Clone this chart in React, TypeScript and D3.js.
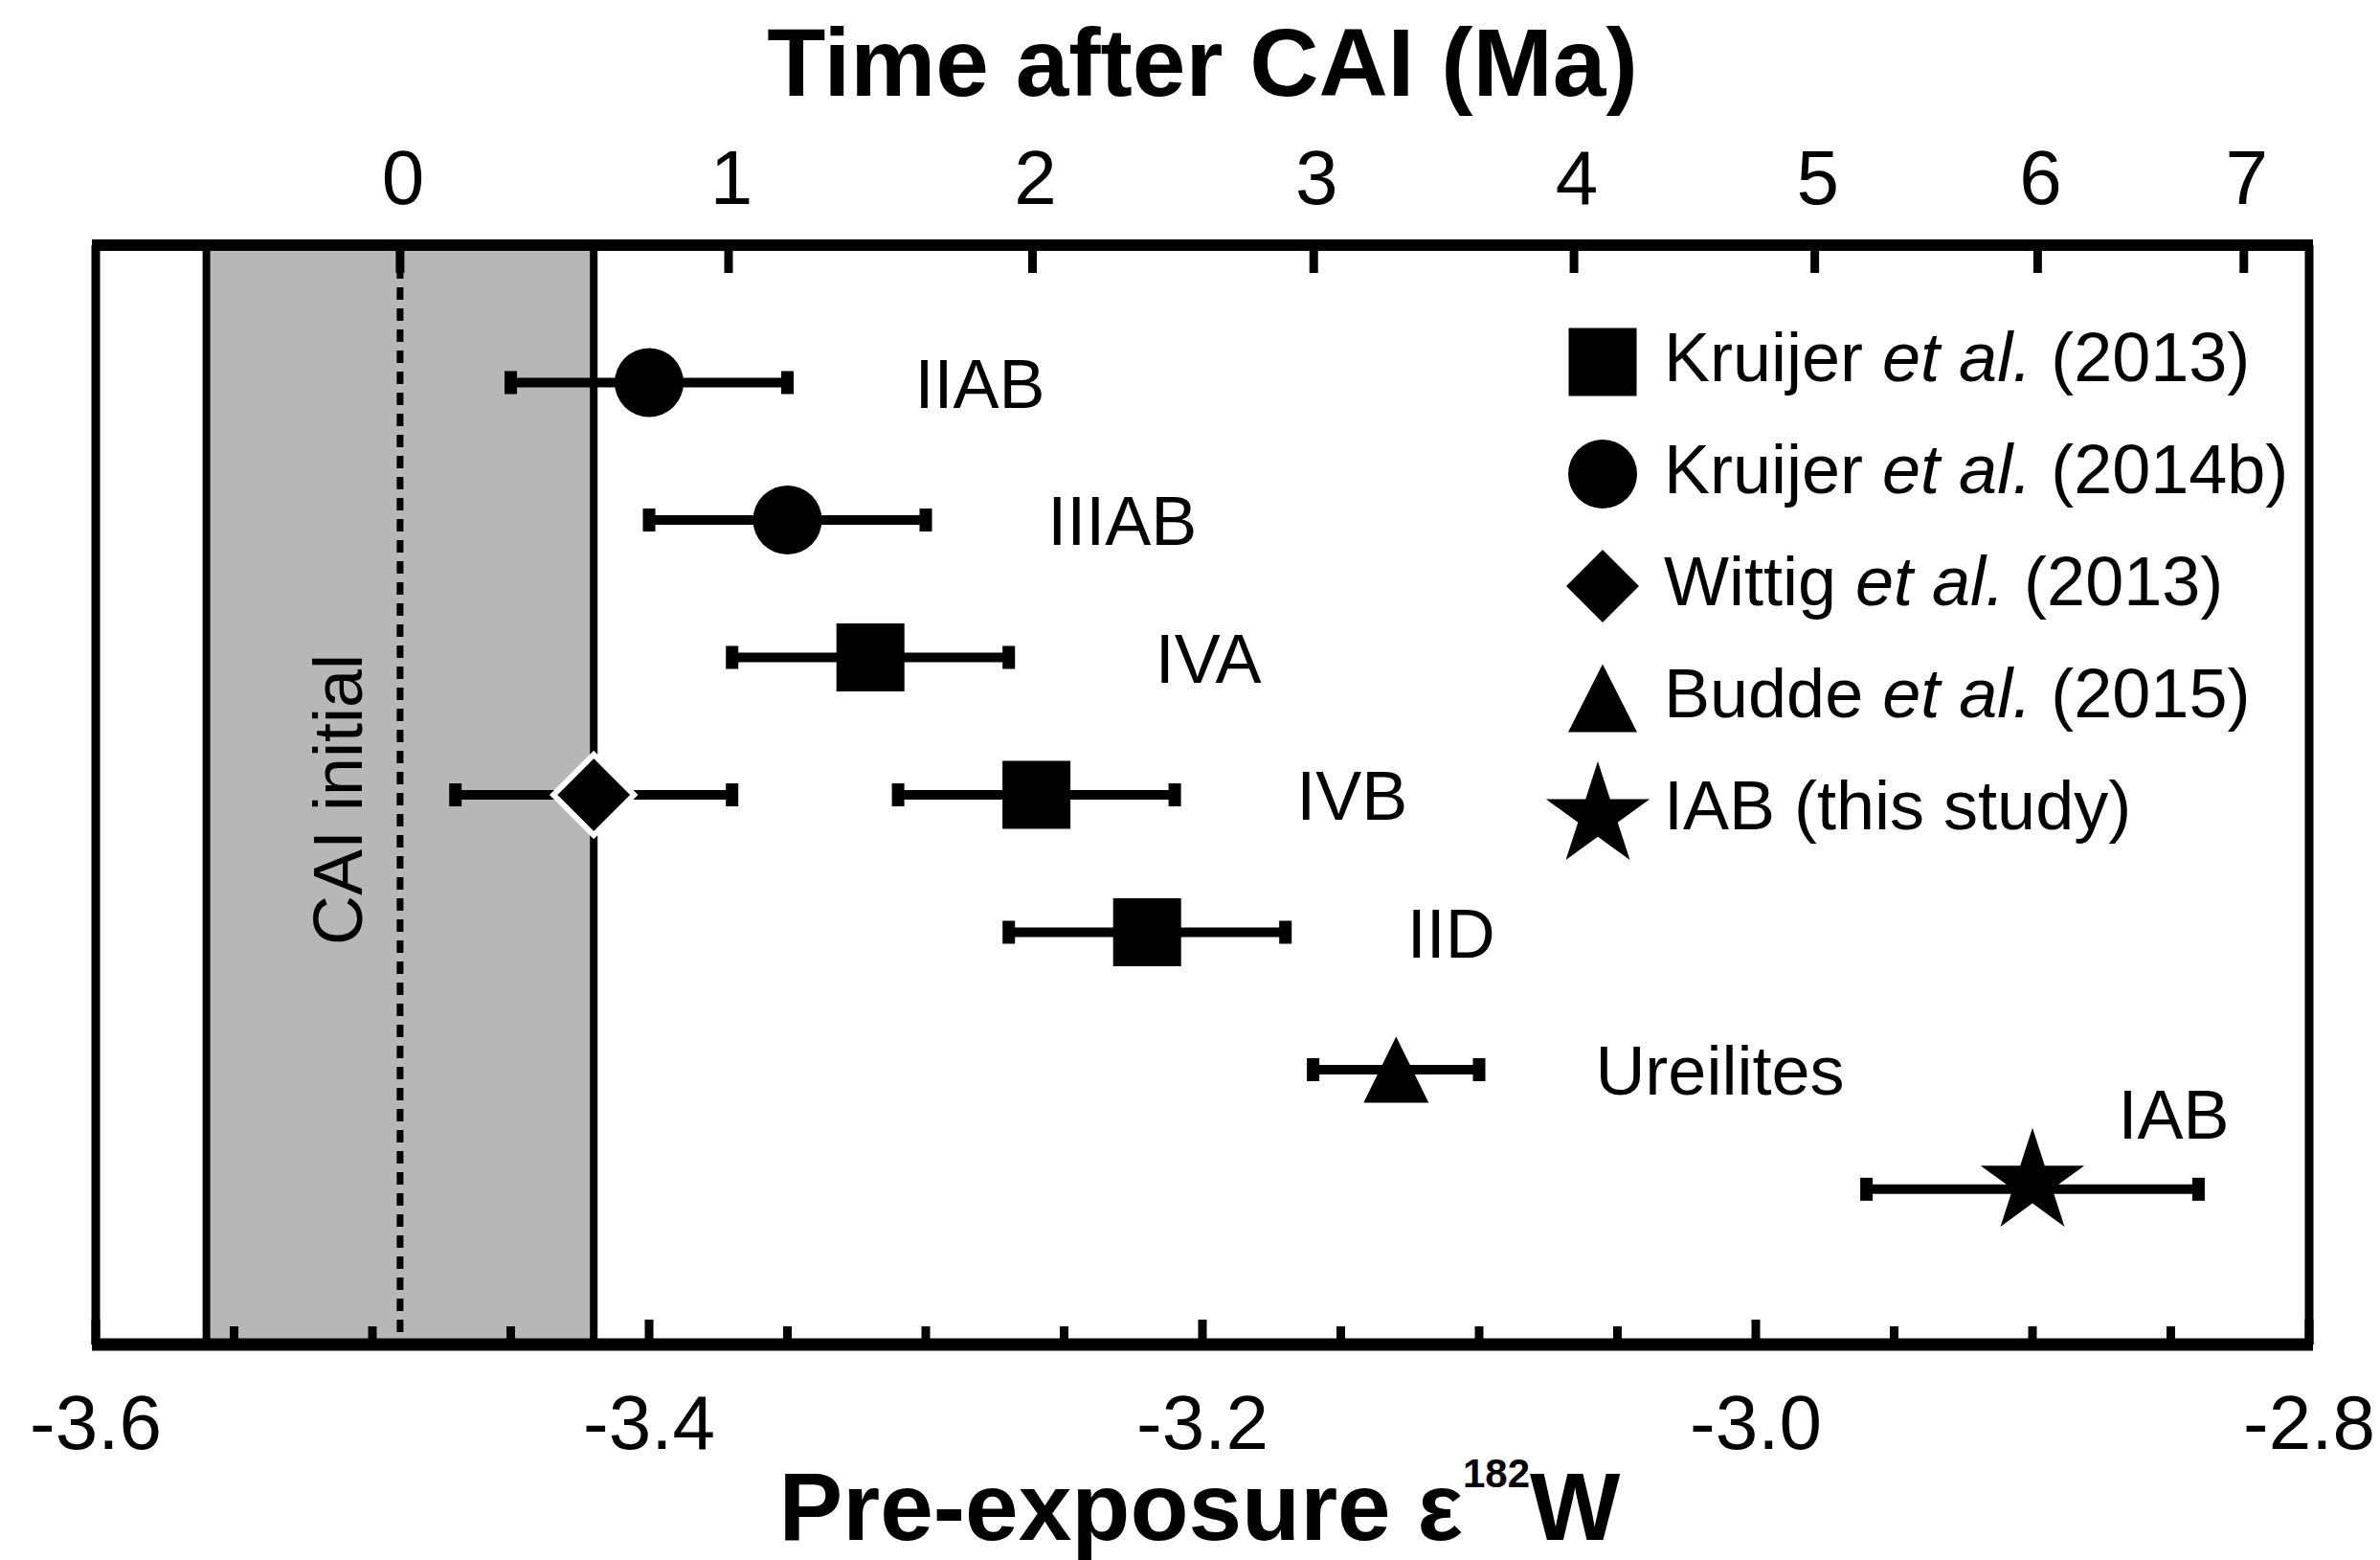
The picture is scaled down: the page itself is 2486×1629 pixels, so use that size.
import React from "react";
import * as d3 from "d3";

// ---------- data ----------
const groups = ["IIAB", "IIIAB", "IVA", "IVB", "IVB", "IID", "Ureilites", "IAB"];
const rowY = [7, 6, 5, 4, 4, 3, 2, 1.13];
const epsW = [-3.40, -3.35, -3.32, -3.26, -3.42, -3.22, -3.13, -2.90];
const epsErr = [0.05, 0.05, 0.05, 0.05, 0.05, 0.05, 0.03, 0.06];
const markers = ["circle", "circle", "square", "square", "diamond", "square", "triangle", "star"];

const groupLabels = ["IIAB", "IIIAB", "IVA", "IVB", "IID", "Ureilites", "IAB"];
const groupLabelEps = [-3.304, -3.256, -3.217, -3.166, -3.126, -3.058, -2.869];
const groupLabelY = [7, 6, 5, 4, 3, 2, 1.68];

const legendShapes = ["square", "circle", "diamond", "triangle", "star"];
const legendAuthors = ["Kruijer ", "Kruijer ", "Wittig ", "Budde ", "IAB (this study)"];
const legendItalic = ["et al.", "et al.", "et al.", "et al.", ""];
const legendYears = [" (2013)", " (2014b)", " (2013)", " (2015)", ""];

const bottomTickValues = [-3.6, -3.4, -3.2, -3.0, -2.8];
const bottomTickLabels = ["-3.6", "-3.4", "-3.2", "-3.0", "-2.8"];
const topTickTimes = [0, 1, 2, 3, 4, 5, 6, 7];

const caiInitial = -3.49;
const caiErr = 0.07;
const epsChondrite = -1.9;
const lambda182 = 0.0776; // per Ma

// ---------- layout ----------
const W = 2486;
const H = 1629;
const left = 100, right = 2412, top = 256, bottom = 1404;
const FONT = "'Liberation Sans', Arial, Helvetica, sans-serif";

const x = d3.scaleLinear().domain([-3.6, -2.8]).range([left, right]);
const y = d3.scaleLinear().domain([0, 8]).range([bottom, top]);
const epsFromTime = (t: number) => epsChondrite + (caiInitial - epsChondrite) * Math.exp(-lambda182 * t);

function starPath(R: number) {
  const r = R * 0.382;
  const pts: [number, number][] = [];
  for (let i = 0; i < 10; i++) {
    const a = -Math.PI / 2 + (i * Math.PI) / 5;
    const rr = i % 2 === 0 ? R : r;
    pts.push([rr * Math.cos(a), rr * Math.sin(a)]);
  }
  return d3.line()(pts) + "Z";
}

function Marker({ type, cx, cy, legend }: { type: string; cx: number; cy: number; legend?: boolean }) {
  if (type === "circle") return <circle cx={cx} cy={cy} r={36} fill="#000" />;
  if (type === "square") return <rect x={cx - 35.5} y={cy - 35.5} width={71} height={71} fill="#000" />;
  if (type === "diamond") {
    const h = legend ? 38 : 42;
    return (
      <path
        d={`M${cx},${cy - h}L${cx + h},${cy}L${cx},${cy + h}L${cx - h},${cy}Z`}
        fill="#000"
        stroke={legend ? "none" : "#fff"}
        strokeWidth={6}
      />
    );
  }
  if (type === "triangle") {
    const w = legend ? 72 : 68;
    const h = legend ? 71 : 69;
    return <path d={`M${cx},${cy - h / 2}L${cx + w / 2},${cy + h / 2}L${cx - w / 2},${cy + h / 2}Z`} fill="#000" />;
  }
  // star
  return <path d={starPath(57)} transform={`translate(${cx},${cy - 7})`} fill="#000" />;
}

export default function App() {
  const minorTicks = d3.range(0, 17).map((i) => -3.6 + i * 0.05);
  const isMajor = (v: number) => Math.abs(Math.round(v / 0.2) * 0.2 - v) < 1e-6;

  return (
    <svg
      width={W}
      height={H}
      viewBox={`0 0 ${W} ${H}`}
      style={{ position: "absolute", left: 0, top: 0, background: "#fff" }}
      fontFamily={FONT}
    >
      <rect x={0} y={0} width={W} height={H} fill="#fff" />

      {/* CAI initial band */}
      <rect
        x={x(caiInitial - caiErr)}
        y={top}
        width={x(caiInitial + caiErr) - x(caiInitial - caiErr)}
        height={bottom - top}
        fill="#b7b7b7"
      />
      <line x1={x(caiInitial)} x2={x(caiInitial)} y1={top} y2={bottom} stroke="#000" strokeWidth={7} strokeDasharray="13 9" />
      <line x1={x(caiInitial - caiErr)} x2={x(caiInitial - caiErr)} y1={top} y2={bottom} stroke="#000" strokeWidth={8} />
      <line x1={x(caiInitial + caiErr)} x2={x(caiInitial + caiErr)} y1={top} y2={bottom} stroke="#000" strokeWidth={8} />
      <text
        transform={`translate(378,${(top + bottom) / 2 + 5}) rotate(-90)`}
        textAnchor="middle"
        fontSize={72}
        fill="#000"
      >
        CAI initial
      </text>

      {/* bottom ticks */}
      {minorTicks.map((v, i) => (
        <line
          key={"bt" + i}
          x1={x(v)}
          x2={x(v)}
          y1={bottom}
          y2={bottom - (isMajor(v) ? 26 : 19)}
          stroke="#000"
          strokeWidth={9}
        />
      ))}
      {bottomTickValues.map((v, i) => (
        <text key={"bl" + i} x={x(v)} y={1513} textAnchor="middle" fontSize={80} fill="#000">
          {bottomTickLabels[i]}
        </text>
      ))}

      {/* top ticks (time after CAI) */}
      {topTickTimes.map((t) => (
        <line
          key={"tt" + t}
          x1={x(epsFromTime(t))}
          x2={x(epsFromTime(t))}
          y1={top}
          y2={top + 29}
          stroke="#000"
          strokeWidth={9}
        />
      ))}
      {topTickTimes.map((t) => (
        <text key={"tl" + t} x={x(epsFromTime(t)) + 3} y={213} textAnchor="middle" fontSize={80} fill="#000">
          {t}
        </text>
      ))}

      {/* frame */}
      <line x1={left} x2={left} y1={top} y2={bottom} stroke="#000" strokeWidth={9} />
      <line x1={right} x2={right} y1={top} y2={bottom} stroke="#000" strokeWidth={9} />
      <line x1={left - 4} x2={right + 4} y1={top} y2={top} stroke="#000" strokeWidth={12} />
      <line x1={left - 4} x2={right + 4} y1={bottom} y2={bottom} stroke="#000" strokeWidth={13} />

      {/* error bars */}
      {epsW.map((v, i) => {
        const cy = y(rowY[i]);
        const x0 = x(v - epsErr[i]);
        const x1 = x(v + epsErr[i]);
        return (
          <g key={"eb" + i}>
            <line x1={x0} x2={x1} y1={cy} y2={cy} stroke="#000" strokeWidth={10} />
            <rect x={x0 - 6.5} y={cy - 12} width={13} height={24} fill="#000" />
            <rect x={x1 - 6.5} y={cy - 12} width={13} height={24} fill="#000" />
          </g>
        );
      })}

      {/* markers */}
      {epsW.map((v, i) => (
        <Marker key={"mk" + i} type={markers[i]} cx={x(v)} cy={y(rowY[i])} />
      ))}

      {/* group labels */}
      {groupLabels.map((g, i) => (
        <text key={"gl" + i} x={x(groupLabelEps[i])} y={y(groupLabelY[i]) + 26} fontSize={72} fill="#000">
          {g}
        </text>
      ))}

      {/* legend */}
      {legendShapes.map((s, i) => {
        const base = 398 + i * 117;
        return (
          <g key={"lg" + i}>
            <Marker type={s} cx={s === "star" ? 1669 : 1674} cy={s === "star" ? base - 7 : base - 20} legend />
            <text x={1738} y={base} fontSize={72} fill="#000">
              {legendAuthors[i]}
              {legendItalic[i] && <tspan fontStyle="italic">{legendItalic[i]}</tspan>}
              {legendYears[i]}
            </text>
          </g>
        );
      })}

      {/* axis titles */}
      <text x={1256} y={100} textAnchor="middle" fontSize={100} fontWeight="bold" fill="#000">
        Time after CAI (Ma)
      </text>
      <text x={1253} y={1608} textAnchor="middle" fontSize={100} fontWeight="bold" fill="#000">
        Pre-exposure ε
        <tspan fontSize={42} dy={-55}>182</tspan>
        <tspan dy={55}>W</tspan>
      </text>
    </svg>
  );
}
